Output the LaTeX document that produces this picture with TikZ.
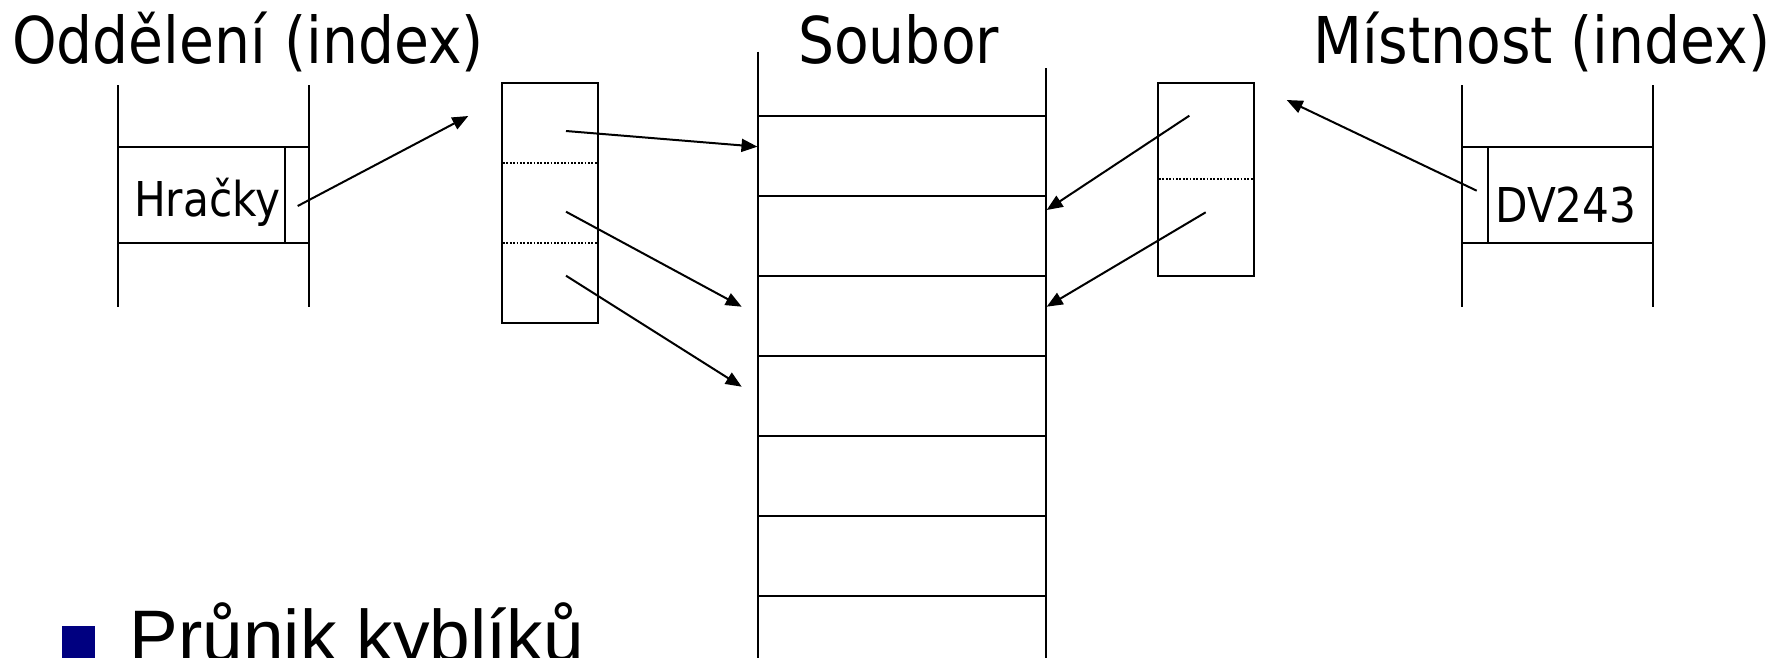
\documentclass[tikz,border=0pt]{standalone}
\usepackage{fontspec}
\setmainfont{DejaVu Sans}[FakeStretch=0.88]
\newfontfamily\bulletfont{Liberation Sans}
\usetikzlibrary{arrows.meta}
\definecolor{navyblue}{RGB}{0,0,128}
\begin{document}
\begin{tikzpicture}[x=1pt,y=-1pt,
  ln/.style={line width=2pt},
  dots/.style={line width=1.7pt, dash pattern=on 1.8pt off 1.6pt},
  ptr/.style={line width=2pt, -{Triangle[length=16pt,width=13pt]}},
  ttl/.style={anchor=base west, inner sep=0pt, font=\fontsize{64.5}{70}\selectfont},
  lbl/.style={anchor=base west, inner sep=0pt, font=\fontsize{48}{52}\selectfont}]
\useasboundingbox (0,0) rectangle (1785,657);
\clip (0,0) rectangle (1785,657);

% titles
\node[ttl] (t1) at (12,63) {Oddělení (index)};
\node[ttl] (t2) at (798,63) {Soubor};
\node[ttl] (t3) at (1313.5,63) {Místnost (index)};

% left index
\draw[ln] (118.3,85) -- (118.3,307);
\draw[ln] (309.3,85) -- (309.3,307);
\draw[ln] (118.3,146.7) -- (309.3,146.7);
\draw[ln] (118.3,243.3) -- (309.3,243.3);
\draw[ln] (285,146.7) -- (285,243.3);
\node[lbl] (hr) at (134,216) {Hračky};

% middle bucket
\draw[ln] (501.7,83.3) rectangle (597.7,323.3);
\draw[dots] (503,163.3) -- (596.5,163.3);
\draw[dots] (503,243.3) -- (596.5,243.3);

% file
\draw[ln] (757.7,51.7) -- (757.7,660);
\draw[ln] (1045.7,68.3) -- (1045.7,660);
\foreach \yy in {115.5,195.5,275.5,355.5,435.5,515.5,595.5}
  \draw[ln] (757.7,\yy) -- (1045.7,\yy);

% right bucket
\draw[ln] (1157.7,83.3) rectangle (1254.3,275.7);
\draw[dots] (1159,179) -- (1253,179);

% right index
\draw[ln] (1462.3,85) -- (1462.3,307);
\draw[ln] (1653.3,85) -- (1653.3,307);
\draw[ln] (1462.3,146.7) -- (1653.3,146.7);
\draw[ln] (1462.3,243.3) -- (1653.3,243.3);
\draw[ln] (1488.3,146.7) -- (1488.3,243.3);
\node[lbl] (dv) at (1495,222) {DV243};

% pointer coordinates
\coordinate (a0s) at (297.7,206);   \coordinate (a0e) at (468.3,116);
\coordinate (a1s) at (566,131);     \coordinate (a1e) at (757.5,146.7);
\coordinate (a2s) at (566,211.7);   \coordinate (a2e) at (741.7,306.7);
\coordinate (a3s) at (566,275.7);   \coordinate (a3e) at (741.7,386.7);
\coordinate (b1s) at (1189.3,115.7);\coordinate (b1e) at (1046.7,210);
\coordinate (b2s) at (1205.7,212.3);\coordinate (b2e) at (1046.7,306.7);
\coordinate (b0s) at (1476.7,190.7);\coordinate (b0e) at (1286.7,100);

\draw[ptr] (a0s) -- (a0e);
\draw[ptr] (a1s) -- (a1e);
\draw[ptr] (a2s) -- (a2e);
\draw[ptr] (a3s) -- (a3e);
\draw[ptr] (b1s) -- (b1e);
\draw[ptr] (b2s) -- (b2e);
\draw[ptr] (b0s) -- (b0e);

% bullet line
\fill[navyblue] (62.3,626) rectangle (95,659);
\node[anchor=base west, inner sep=0pt, font=\bulletfont\fontsize{73}{80}\selectfont] (pk) at (129.5,661.3) {Průnik kyblíků};
\end{tikzpicture}
\end{document}
